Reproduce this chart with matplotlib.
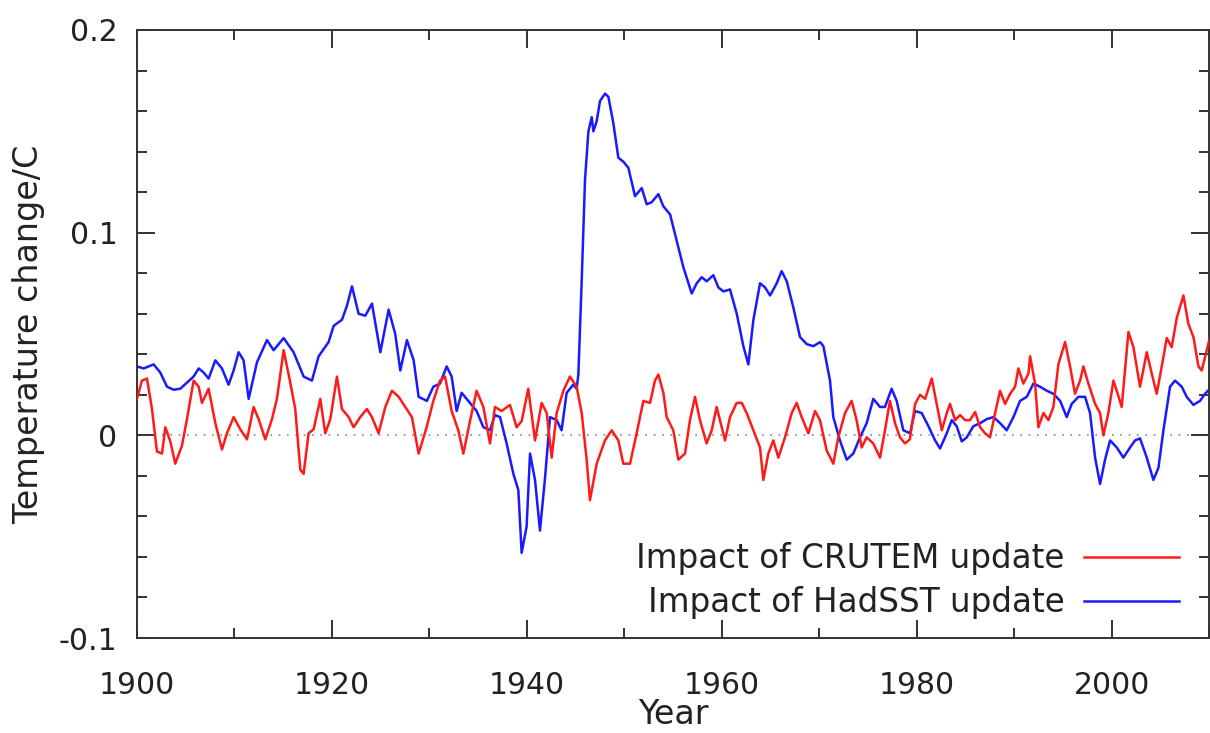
import numpy as np
import matplotlib
matplotlib.use("Agg")
import matplotlib.pyplot as plt
from matplotlib.ticker import MultipleLocator
from matplotlib.lines import Line2D

# values (year, temperature change / C)
crutem_years = [1900.00, 1900.51, 1901.03, 1901.54, 1902.05, 1902.57, 1902.91, 1903.42, 1903.93, 1904.62,
                1905.13, 1905.81, 1906.33, 1906.67, 1907.35, 1908.04, 1908.72, 1909.23, 1909.92, 1910.60,
                1911.29, 1911.97, 1912.48, 1913.17, 1913.85, 1914.36, 1915.05, 1915.73, 1916.24, 1916.76,
                1917.10, 1917.61, 1918.13, 1918.81, 1919.32, 1919.84, 1920.52, 1921.03, 1921.72, 1922.23,
                1922.91, 1923.60, 1924.11, 1924.79, 1925.48, 1926.16, 1926.85, 1927.53, 1928.21, 1928.90,
                1929.72, 1930.41, 1931.09, 1931.61, 1932.29, 1932.97, 1933.49, 1934.17, 1934.85, 1935.54,
                1936.22, 1936.73, 1937.42, 1938.27, 1938.96, 1939.47, 1940.15, 1940.84, 1941.52, 1942.04,
                1942.55, 1943.06, 1943.75, 1944.43, 1945.11, 1945.63, 1946.14, 1946.48, 1947.17, 1948.02,
                1948.71, 1949.39, 1949.90, 1950.59, 1951.27, 1951.96, 1952.64, 1953.15, 1953.50, 1954.01,
                1954.35, 1955.03, 1955.55, 1956.23, 1956.74, 1957.26, 1957.77, 1958.45, 1958.97, 1959.48,
                1959.82, 1960.34, 1960.85, 1961.53, 1962.05, 1962.56, 1963.24, 1963.93, 1964.27, 1964.78,
                1965.29, 1965.81, 1966.49, 1967.18, 1967.69, 1968.20, 1968.89, 1969.57, 1970.08, 1970.77,
                1971.45, 1971.96, 1972.65, 1973.33, 1973.84, 1974.36, 1974.87, 1975.55, 1976.24, 1976.75,
                1977.26, 1977.78, 1978.29, 1978.80, 1979.30, 1979.84, 1980.35, 1980.87, 1981.55, 1982.06,
                1982.58, 1983.09, 1983.43, 1983.94, 1984.46, 1984.97, 1985.48, 1986.00, 1986.51, 1987.02,
                1987.53, 1988.05, 1988.56, 1989.07, 1989.59, 1990.10, 1990.44, 1990.95, 1991.47, 1991.64,
                1992.15, 1992.49, 1993.01, 1993.52, 1994.03, 1994.54, 1995.23, 1995.74, 1996.25, 1996.77,
                1997.11, 1997.62, 1998.31, 1998.82, 1999.16, 1999.67, 2000.19, 2000.53, 2001.04, 2001.73,
                2002.24, 2002.92, 2003.61, 2004.12, 2004.63, 2005.15, 2005.66, 2006.17, 2006.69, 2007.37,
                2007.88, 2008.40, 2008.91, 2009.25, 2009.76, 2010.10]
crutem_vals = [0.018, 0.027, 0.028, 0.013, -0.008, -0.009, 0.004, -0.003, -0.014, -0.005,
               0.008, 0.027, 0.024, 0.016, 0.023, 0.006, -0.007, 0.001, 0.009, 0.003,
               -0.002, 0.014, 0.008, -0.002, 0.008, 0.018, 0.042, 0.026, 0.013, -0.017,
               -0.019, 0.001, 0.003, 0.018, 0.001, 0.008, 0.029, 0.013, 0.009, 0.004,
               0.009, 0.013, 0.009, 0.001, 0.014, 0.022, 0.019, 0.014, 0.009, -0.009,
               0.004, 0.017, 0.027, 0.029, 0.012, 0.0025, -0.009, 0.007, 0.022, 0.014,
               -0.004, 0.014, 0.012, 0.015, 0.004, 0.007, 0.023, -0.0025, 0.016, 0.011,
               -0.011, 0.011, 0.022, 0.029, 0.024, 0.011, -0.012, -0.032, -0.014, -0.0025,
               0.0025, -0.0025, -0.014, -0.014, 0.001, 0.017, 0.016, 0.027, 0.030, 0.021,
               0.009, 0.0025, -0.012, -0.009, 0.0075, 0.019, 0.0075, -0.004, 0.0025, 0.014,
               0.0075, -0.0025, 0.009, 0.016, 0.016, 0.011, 0.0025, -0.006, -0.022, -0.009,
               -0.0025, -0.011, -0.001, 0.011, 0.016, 0.009, 0.001, 0.012, 0.0075, -0.0075,
               -0.014, -0.001, 0.011, 0.017, 0.0075, -0.006, -0.001, -0.004, -0.011, 0.0025,
               0.017, 0.006, -0.001, -0.004, -0.002, 0.0155, 0.020, 0.018, 0.028, 0.0155,
               0.0025, 0.011, 0.0155, 0.0075, 0.010, 0.0075, 0.0075, 0.0115, 0.004, 0.001,
               -0.001, 0.011, 0.022, 0.0155, 0.0205, 0.024, 0.033, 0.0255, 0.0305, 0.039,
               0.0255, 0.004, 0.011, 0.0075, 0.014, 0.035, 0.046, 0.034, 0.0205, 0.027,
               0.034, 0.0255, 0.0155, 0.011, 0.0, 0.011, 0.027, 0.022, 0.014, 0.051,
               0.0435, 0.024, 0.041, 0.0305, 0.0205, 0.034, 0.048, 0.0435, 0.058, 0.069,
               0.055, 0.0485, 0.034, 0.032, 0.042, 0.0485]

hadsst_years = [1900.00, 1900.68, 1901.71, 1902.39, 1903.08, 1903.76, 1904.45, 1905.13, 1905.81, 1906.33,
                1906.84, 1907.35, 1908.04, 1908.72, 1909.40, 1909.92, 1910.43, 1910.94, 1911.46, 1912.31,
                1913.34, 1914.02, 1915.05, 1916.07, 1917.10, 1917.95, 1918.64, 1919.66, 1920.18, 1921.03,
                1921.55, 1922.06, 1922.74, 1923.43, 1924.11, 1924.97, 1925.82, 1926.50, 1927.02, 1927.70,
                1928.39, 1928.90, 1929.75, 1930.41, 1931.09, 1931.78, 1932.29, 1932.80, 1933.31, 1934.17,
                1934.85, 1935.54, 1936.22, 1936.73, 1937.25, 1937.93, 1938.62, 1939.13, 1939.47, 1939.98,
                1940.33, 1940.84, 1941.35, 1941.87, 1942.38, 1943.06, 1943.57, 1944.09, 1944.77, 1945.11,
                1945.29, 1945.63, 1945.97, 1946.32, 1946.66, 1946.83, 1947.17, 1947.51, 1948.03, 1948.37,
                1948.88, 1949.39, 1949.91, 1950.42, 1951.10, 1951.79, 1952.30, 1952.81, 1953.50, 1954.01,
                1954.70, 1955.38, 1956.06, 1956.92, 1957.43, 1957.94, 1958.46, 1959.14, 1959.65, 1960.17,
                1960.85, 1961.54, 1962.22, 1962.73, 1963.25, 1963.93, 1964.44, 1964.96, 1965.64, 1966.15,
                1966.67, 1967.35, 1968.03, 1968.72, 1969.40, 1970.09, 1970.43, 1971.11, 1971.45, 1972.13,
                1972.82, 1973.50, 1974.19, 1974.87, 1975.55, 1976.24, 1976.75, 1977.43, 1977.95, 1978.63,
                1979.32, 1979.83, 1980.52, 1981.21, 1981.89, 1982.40, 1983.09, 1983.60, 1984.11, 1984.63,
                1985.14, 1985.82, 1986.51, 1987.19, 1987.88, 1988.56, 1989.24, 1989.93, 1990.61, 1991.30,
                1991.98, 1992.66, 1993.35, 1994.03, 1994.72, 1995.40, 1995.91, 1996.60, 1997.28, 1997.79,
                1998.31, 1998.82, 1999.33, 1999.85, 2000.53, 2001.21, 2001.90, 2002.41, 2002.92, 2003.61,
                2004.29, 2004.81, 2005.32, 2006.00, 2006.51, 2007.20, 2007.71, 2008.40, 2009.08, 2009.59,
                2010.10]
hadsst_vals = [0.034, 0.033, 0.035, 0.031, 0.024, 0.0225, 0.023, 0.026, 0.029, 0.033,
               0.031, 0.028, 0.037, 0.033, 0.025, 0.032, 0.041, 0.037, 0.018, 0.036,
               0.047, 0.042, 0.048, 0.041, 0.029, 0.027, 0.039, 0.046, 0.054, 0.057,
               0.064, 0.0735, 0.060, 0.059, 0.065, 0.041, 0.062, 0.050, 0.032, 0.047,
               0.037, 0.019, 0.017, 0.024, 0.0255, 0.034, 0.029, 0.012, 0.021, 0.016,
               0.012, 0.004, 0.0025, 0.010, 0.009, -0.004, -0.019, -0.027, -0.058, -0.045,
               -0.009, -0.022, -0.047, -0.021, 0.009, 0.0075, 0.0025, 0.021, 0.025, 0.023,
               0.030, 0.076, 0.126, 0.150, 0.157, 0.150, 0.155, 0.165, 0.1686, 0.167,
               0.154, 0.137, 0.135, 0.132, 0.118, 0.122, 0.114, 0.115, 0.119, 0.113,
               0.109, 0.096, 0.083, 0.070, 0.075, 0.078, 0.076, 0.079, 0.073, 0.071,
               0.072, 0.060, 0.044, 0.035, 0.057, 0.075, 0.073, 0.069, 0.075, 0.081,
               0.076, 0.063, 0.0485, 0.045, 0.044, 0.046, 0.044, 0.027, 0.009, -0.0025,
               -0.012, -0.009, -0.001, 0.006, 0.018, 0.014, 0.014, 0.023, 0.017, 0.0025,
               0.001, 0.012, 0.011, 0.0045, -0.0025, -0.0065, 0.001, 0.0075, 0.0045, -0.003,
               -0.001, 0.0045, 0.006, 0.008, 0.009, 0.006, 0.0025, 0.009, 0.017, 0.019,
               0.0255, 0.024, 0.022, 0.0205, 0.017, 0.009, 0.0155, 0.019, 0.019, 0.011,
               -0.011, -0.024, -0.012, -0.0025, -0.006, -0.011, -0.006, -0.0025, -0.0015, -0.011,
               -0.022, -0.016, 0.0025, 0.024, 0.027, 0.024, 0.019, 0.015, 0.017, 0.0205,
               0.023]

x_ticks = [1900, 1920, 1940, 1960, 1980, 2000]
y_ticks = [-0.1, 0, 0.1, 0.2]
y_labels = ["-0.1", "0", "0.1", "0.2"]

plt.rcParams["font.family"] = "DejaVu Sans"
fig = plt.figure(figsize=(12.10, 7.33), dpi=100)
ax = fig.add_axes([0.1132, 0.1296, 0.8860, 0.8295])

ax.axhline(0, color="#888888", lw=1.2, ls=(0, (1, 4)), zorder=1)
ax.plot(crutem_years, crutem_vals, color="#ff1a1a", lw=1.8, zorder=3)
ax.plot(hadsst_years, hadsst_vals, color="#1a1aff", lw=1.8, zorder=2)

ax.set_xlim(1900, 2010)
ax.set_ylim(-0.1, 0.2)
ax.set_xticks(x_ticks)
ax.set_yticks(y_ticks)
ax.set_yticklabels(y_labels)
ax.xaxis.set_minor_locator(MultipleLocator(10))
ax.yaxis.set_minor_locator(MultipleLocator(0.02))
ax.tick_params(which="both", direction="in", top=True, right=True, color="#333333", width=1.4)
ax.tick_params(which="major", length=13, labelsize=21.5, labelcolor="#222222")
ax.tick_params(which="minor", length=7)
ax.tick_params(axis="x", which="major", pad=24)
ax.tick_params(axis="y", which="major", pad=14)
for s in ax.spines.values():
    s.set_color("#333333")
    s.set_linewidth(1.4)

ax.set_xlabel("Year", fontsize=24, color="#222222")
ax.xaxis.set_label_coords(0.5, -0.0985)
ax.set_ylabel("Temperature change/C", fontsize=24, color="#222222")
ax.yaxis.set_label_coords(-0.086, 0.50)

# gnuplot-style key: right aligned text, sample to the right
handles = [Line2D([], [], color="#ff1a1a", lw=1.8), Line2D([], [], color="#1a1aff", lw=1.8)]
ax.legend(handles, ["Impact of CRUTEM update", "Impact of HadSST update"],
          loc="lower right", bbox_to_anchor=(0.972, 0.031), frameon=False, fontsize=23.5,
          markerfirst=False, handlelength=2.9, handletextpad=0.6, labelspacing=0.33,
          labelcolor="#222222", borderpad=0, borderaxespad=0)

fig.savefig("out.png", dpi=100)
